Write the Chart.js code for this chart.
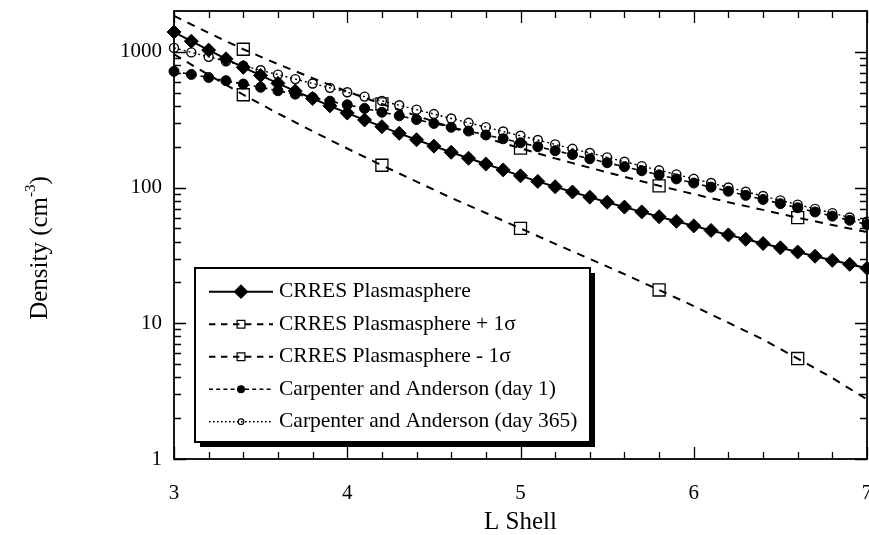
<!DOCTYPE html>
<html>
<head>
<meta charset="utf-8">
<title>Plasmasphere density</title>
<script src="https://cdn.jsdelivr.net/npm/chart.js@4.4.0/dist/chart.umd.min.js"></script>
<style>
  html, body { margin: 0; padding: 0; background: #fff; }
  #wrap { width: 869px; height: 535px; }
</style>
</head>
<body>
<div id="wrap"><canvas id="density" width="869" height="535"></canvas></div>
<script>
// L shell values (model points every 0.1, sigma curves every 0.2)
const lFine = [3.0, 3.1, 3.2, 3.3, 3.4, 3.5, 3.6, 3.7, 3.8, 3.9,
               4.0, 4.1, 4.2, 4.3, 4.4, 4.5, 4.6, 4.7, 4.8, 4.9,
               5.0, 5.1, 5.2, 5.3, 5.4, 5.5, 5.6, 5.7, 5.8, 5.9,
               6.0, 6.1, 6.2, 6.3, 6.4, 6.5, 6.6, 6.7, 6.8, 6.9, 7.0];
const lSigma = [3.0, 3.2, 3.4, 3.6, 3.8, 4.0, 4.2, 4.4, 4.6, 4.8,
                5.0, 5.2, 5.4, 5.6, 5.8, 6.0, 6.2, 6.4, 6.6, 6.8, 7.0];
// where the square markers sit on the sigma curves
const sigmaMarkerL = [3.4, 4.2, 5.0, 5.8, 6.6];

// densities, cm^-3
const crres = [1400, 1198, 1030, 888, 769, 670, 586, 514, 453, 400,
               354, 315, 281, 251, 225, 202, 182, 164.5, 149, 135,
               122, 111, 101.5, 92.8, 85, 78, 71.8, 66.2, 61, 56.4,
               52.2, 48.3, 44.8, 41.6, 38.7, 36, 33.5, 31.2, 29.1, 27.2, 25.4];
const crresPlus = [1840, 1380, 1045, 812, 640, 510, 413, 338, 278, 232,
                   195, 164, 140, 120, 103, 89.5, 78, 68.5, 60, 53, 47];
const crresMinus = [960, 676, 483, 352, 260, 194, 146, 110.5, 84, 65,
                    50, 38.5, 29.8, 23, 17.6, 13.4, 10.1, 7.6, 5.5, 3.95, 2.75];
const caDay1 = [718, 682, 647, 613, 579, 548, 517, 488, 460, 433,
                407, 383, 359, 338, 317, 297, 278, 261, 244, 229,
                214, 200, 187, 175, 163, 152.5, 142.4, 133, 124, 115.8,
                108, 100.7, 94, 87.6, 81.7, 76.1, 71, 66.1, 61.6, 57.4, 53.5];
const caDay365 = [1069, 991, 919, 851, 790, 732, 680, 630, 585, 543,
                  504, 468, 435, 404, 375, 348, 323, 300, 279, 259,
                  241, 224, 208, 193, 180, 167, 155, 144, 134, 125,
                  116, 108, 100.2, 93.2, 86.6, 80.5, 74.9, 69.7, 64.8, 60.2, 56];

const xTicks = [3, 4, 5, 6, 7];
const yTicks = [1, 10, 100, 1000];

const SERIF = '"Liberation Serif", "Times New Roman", serif';

const pts = (xs, ys) => xs.map((x, i) => ({ x: x, y: ys[i] }));
const sigmaRadius = ctx => {
  const p = ctx.raw;
  return p && sigmaMarkerL.some(v => Math.abs(v - p.x) < 1e-6) ? 8.5 : 0;
};

// let the last x label hang off the edge instead of shrinking the plot
const noSidePadding = s => {
  s.paddingLeft = 0;
  s.paddingRight = 0;
};

// frame with inward ticks on all four sides
const frameTicks = {
  id: 'frameTicks',
  afterDraw(chart) {
    const { ctx, chartArea: a, scales: { x, y } } = chart;
    ctx.save();
    ctx.strokeStyle = '#000';
    ctx.lineWidth = 1.3;
    ctx.beginPath();
    for (let k = 0; k <= 20; k++) {
      const px = Math.round(x.getPixelForValue(3 + k * 0.2)) + 0.5;
      const len = k % 5 === 0 ? 12 : 7;
      ctx.moveTo(px, a.bottom); ctx.lineTo(px, a.bottom - len);
      ctx.moveTo(px, a.top); ctx.lineTo(px, a.top + len);
    }
    for (const dec of yTicks) {
      for (let m = 1; m <= 9; m++) {
        const v = m * dec;
        if (v >= 2000) break;
        const py = Math.round(y.getPixelForValue(v)) + 0.5;
        const len = m === 1 ? 12 : 7;
        ctx.moveTo(a.left, py); ctx.lineTo(a.left + len, py);
        ctx.moveTo(a.right, py); ctx.lineTo(a.right - len, py);
      }
    }
    ctx.stroke();
    ctx.lineWidth = 1.8;
    ctx.strokeRect(a.left, a.top, a.right - a.left, a.bottom - a.top);

    // y axis title with superscript
    ctx.translate(40, 248);
    ctx.rotate(-Math.PI / 2);
    ctx.fillStyle = '#000';
    ctx.textBaseline = 'middle';
    ctx.font = '25px ' + SERIF;
    const main = 'Density (cm';
    const w1 = ctx.measureText(main).width;
    const w3 = ctx.measureText(')').width;
    ctx.font = '15px ' + SERIF;
    const w2 = ctx.measureText('-3').width;
    let cx = -(w1 + w2 + w3) / 2;
    ctx.font = '25px ' + SERIF;
    ctx.fillText(main, cx, 0);
    cx += w1;
    ctx.font = '15px ' + SERIF;
    ctx.fillText('-3', cx, -9);
    cx += w2;
    ctx.font = '25px ' + SERIF;
    ctx.fillText(')', cx, 0);
    ctx.restore();
  }
};

// boxed legend with drop shadow, line samples drawn from the dataset styles
const legendBox = {
  id: 'legendBox',
  afterDatasetsDraw(chart) {
    const { ctx } = chart;
    const left = 195, top = 268, w = 395, h = 174;
    const markerSize = [6.5, 5.5, 5.5, 3.4, 2.8];
    ctx.save();
    ctx.fillStyle = '#000';
    ctx.fillRect(left + 5, top + 5, w, h);
    ctx.fillStyle = '#fff';
    ctx.fillRect(left, top, w, h);
    ctx.strokeStyle = '#000';
    ctx.lineWidth = 2;
    ctx.strokeRect(left, top, w, h);

    ctx.font = '21.5px ' + SERIF;
    ctx.textBaseline = 'middle';
    chart.data.datasets.forEach((ds, i) => {
      const yRow = top + 23.7 + i * 32.5;
      ctx.save();
      ctx.strokeStyle = '#000';
      ctx.lineWidth = ds.borderWidth;
      ctx.setLineDash(ds.borderDash ? ds.borderDash.map(d => d * 0.8) : []);
      ctx.beginPath();
      ctx.moveTo(209, yRow);
      ctx.lineTo(273, yRow);
      ctx.stroke();
      ctx.setLineDash([]);
      ctx.fillStyle = ds.pointBackgroundColor;
      ctx.strokeStyle = '#000';
      ctx.lineWidth = 1.2;
      Chart.helpers.drawPoint(ctx, {
        pointStyle: ds.pointStyle, radius: markerSize[i], rotation: 0, borderWidth: 1.2
      }, 241, yRow);
      ctx.restore();
      ctx.fillStyle = '#000';
      ctx.fillText(ds.label, 279, yRow);
    });
    ctx.restore();
  }
};

new Chart(document.getElementById('density'), {
  type: 'line',
  data: {
    datasets: [
      {
        label: 'CRRES Plasmasphere',
        data: pts(lFine, crres),
        borderColor: '#000', borderWidth: 2,
        pointStyle: 'rectRot', pointRadius: 7,
        pointBackgroundColor: '#000', pointBorderColor: '#000', pointBorderWidth: 1,
        clip: false
      },
      {
        label: 'CRRES Plasmasphere + 1σ',
        data: pts(lSigma, crresPlus),
        borderColor: '#000', borderWidth: 2, borderDash: [8, 7],
        pointStyle: 'rect', pointRadius: sigmaRadius,
        pointBackgroundColor: 'rgba(0,0,0,0)', pointBorderColor: '#000', pointBorderWidth: 1.3,
        clip: false
      },
      {
        label: 'CRRES Plasmasphere - 1σ',
        data: pts(lSigma, crresMinus),
        borderColor: '#000', borderWidth: 2, borderDash: [8, 7],
        pointStyle: 'rect', pointRadius: sigmaRadius,
        pointBackgroundColor: 'rgba(0,0,0,0)', pointBorderColor: '#000', pointBorderWidth: 1.3,
        clip: false
      },
      {
        label: 'Carpenter and Anderson (day 1)',
        data: pts(lFine, caDay1),
        borderColor: '#000', borderWidth: 1.6, borderDash: [5, 4],
        pointStyle: 'circle', pointRadius: 5,
        pointBackgroundColor: '#000', pointBorderColor: '#000', pointBorderWidth: 1,
        clip: false
      },
      {
        label: 'Carpenter and Anderson (day 365)',
        data: pts(lFine, caDay365),
        borderColor: '#000', borderWidth: 1.4, borderDash: [2, 3],
        pointStyle: 'circle', pointRadius: 4.5,
        pointBackgroundColor: 'rgba(0,0,0,0)', pointBorderColor: '#000', pointBorderWidth: 1.4,
        clip: false
      }
    ]
  },
  options: {
    responsive: false,
    animation: false,
    layout: { autoPadding: false, padding: { top: 11, right: 2, left: 0, bottom: 0 } },
    plugins: { legend: { display: false }, tooltip: { enabled: false } },
    scales: {
      x: {
        type: 'linear', min: 3, max: 7,
        grid: { display: false, drawTicks: false }, border: { display: false },
        afterBuildTicks: s => { s.ticks = xTicks.map(v => ({ value: v })); },
        afterFit: s => { s.height = 76; noSidePadding(s); },
        ticks: {
          color: '#000', font: { family: SERIF, size: 21 },
          padding: 22, maxRotation: 0, autoSkip: false,
          callback: v => String(v)
        },
        title: {
          display: true, text: 'L Shell', color: '#000',
          font: { family: SERIF, size: 25 }, padding: { top: 0, bottom: -2 }
        }
      },
      y: {
        type: 'logarithmic', min: 1, max: 2000,
        grid: { display: false, drawTicks: false }, border: { display: false },
        afterBuildTicks: s => { s.ticks = yTicks.map(v => ({ value: v })); },
        afterFit: s => { s.width = 174; s.paddingTop = 0; s.paddingBottom = 0; },
        ticks: {
          color: '#000', font: { family: SERIF, size: 21 },
          padding: 12, autoSkip: false,
          callback: v => String(v)
        }
      }
    }
  },
  plugins: [frameTicks, legendBox]
});
</script>
</body>
</html>
